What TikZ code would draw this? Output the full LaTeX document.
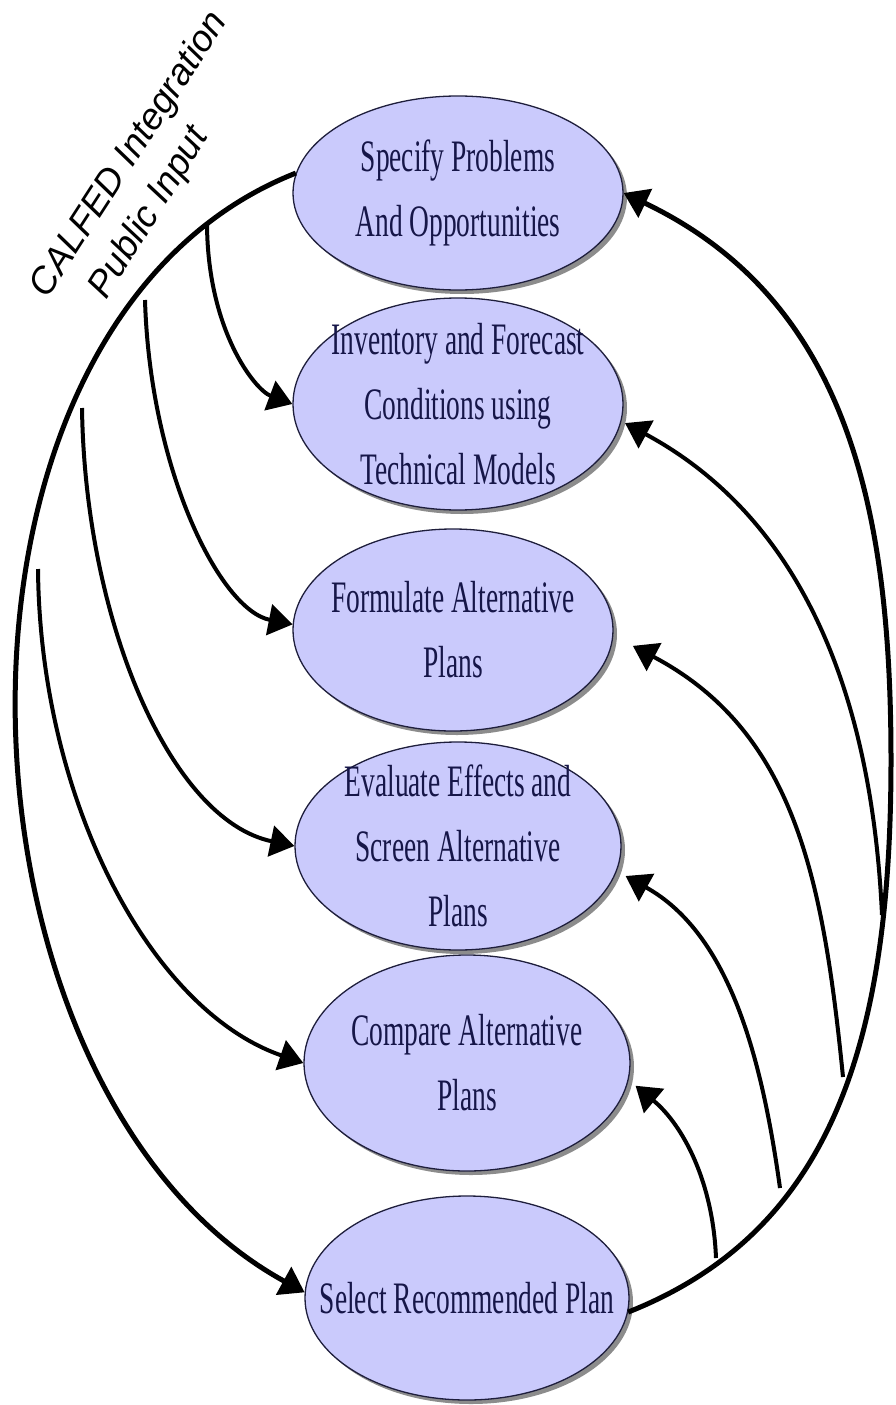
\documentclass[tikz,border=0pt]{standalone}
\usepackage{fontspec}
\usetikzlibrary{shapes.geometric,arrows.meta,shadows}
\newfontfamily\condserif[FakeStretch=0.61]{Liberation Serif}
\newfontfamily\labsans{Liberation Sans}
\definecolor{ellfill}{RGB}{202,202,252}
\definecolor{ellline}{RGB}{30,30,60}
\definecolor{elltext}{RGB}{22,22,72}
\begin{document}
\begin{tikzpicture}[x=1pt,y=-1pt,
  stage/.style={ellipse, draw=ellline, line width=1.3pt, fill=ellfill, inner sep=0pt,
     drop shadow={shadow xshift=4pt, shadow yshift=-4pt, fill=black!45, opacity=1}},
  stagetext/.style={font=\condserif\fontsize{45pt}{65pt}\selectfont, text=elltext, align=center, inner sep=0pt},
  trunk/.style={line width=5pt, -{Triangle[length=24pt,width=31pt]}},
  branch/.style={line width=4pt, -{Triangle[length=24pt,width=31pt]}},
  sidelabel/.style={font=\labsans\itshape\fontsize{37pt}{40pt}\selectfont, inner sep=0pt}
]
\useasboundingbox (0,0) rectangle (895,1405);
\fill[white] (0,0) rectangle (895,1405);

\node[stage, minimum width=330pt, minimum height=194pt, label={[stagetext]center:{Specify Problems\\And Opportunities}}] (spec) at (458,193) {};
\node[stage, minimum width=330pt, minimum height=212pt, label={[stagetext]center:{Inventory and Forecast\\Conditions using\\Technical Models}}] (inv) at (458,404) {};
\node[stage, minimum width=320pt, minimum height=202pt, label={[stagetext]center:{Formulate Alternative\\Plans}}] (form) at (453,630) {};
\node[stage, minimum width=326pt, minimum height=208pt, label={[stagetext]center:{Evaluate Effects and\\Screen Alternative\\Plans}}] (eval) at (458,846) {};
\node[stage, minimum width=326pt, minimum height=216pt, label={[stagetext]center:{Compare Alternative\\Plans}}] (comp) at (467,1063) {};
\node[stage, minimum width=324pt, minimum height=204pt, label={[stagetext]center:{Select Recommended Plan}}] (sel) at (467,1298) {};

\node[sidelabel, rotate=57] (calfed) at (130,155) {CALFED Integration};
\node[sidelabel, rotate=58] (public) at (150,213) {Public Input};

% left side: public input flowing to each step
\draw[trunk] (spec.173) .. controls (-92,326) and (-61,1092) .. (sel.178);
\coordinate (lb1) at (207,222);
\coordinate (lb2) at (145,300);
\coordinate (lb3) at (82,408);
\coordinate (lb4) at (38,569);
\draw[branch] (lb1) .. controls (207,330) and (255,390) .. (inv.west);
\draw[branch] (lb2) .. controls (150,470) and (220,610) .. (form.178);
\draw[branch] (lb3) .. controls (85,620) and (170,820) .. (eval.west);
\draw[branch] (lb4) .. controls (40,800) and (150,1010) .. (comp.west);

% right side: feedback from the selection back to each step
\draw[trunk] (sel.-5) .. controls (833,1231) and (891,1040) .. (891,760)
   .. controls (891,510) and (848,300) .. (spec.east);
\coordinate (rb1) at (882,915);
\coordinate (rb2) at (843,1077);
\coordinate (rb3) at (780,1188);
\coordinate (rb4) at (716,1258);
\draw[branch, shorten >=4pt] (rb1) .. controls (872,700) and (805,520) .. (inv.-6);
\draw[branch, shorten >=22pt] (rb2) .. controls (823,877) and (794,731) .. (form.-2);
\draw[branch, shorten >=10pt] (rb3) .. controls (762,1059) and (730,934) .. (eval.-9);
\draw[branch, shorten >=9pt] (rb4) .. controls (713,1182) and (683,1125) .. (comp.-6);
\end{tikzpicture}
\end{document}
